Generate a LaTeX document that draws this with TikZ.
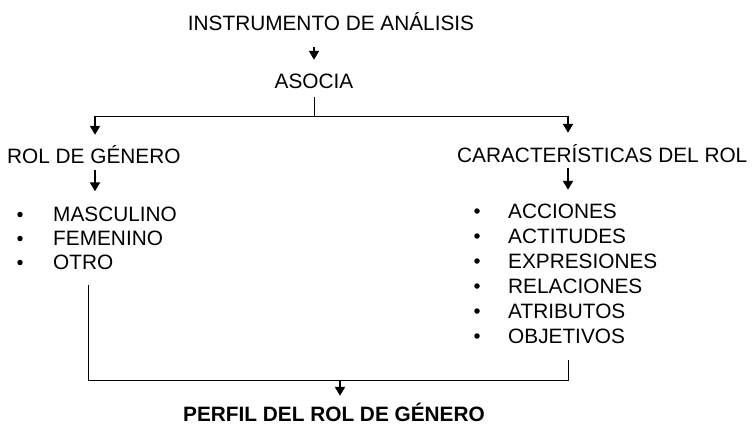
\documentclass[tikz,border=0pt]{standalone}
\usepackage{fontspec}
\setmainfont{Liberation Sans}
\usetikzlibrary{arrows.meta}
\begin{document}
\begin{tikzpicture}[x=1pt,y=-1pt,
  lbl/.style={inner sep=0pt,text height=15pt,text depth=0pt,font=\fontsize{20.8}{25}\selectfont},
  itm/.style={lbl,anchor=base west},
  ln/.style={line width=1pt},
  arr/.style={line width=2pt,-{Triangle[width=10pt,length=9pt]}},
  bul/.style={fill=black,circle,inner sep=0pt,minimum size=5.5pt}]
\useasboundingbox (0,0) rectangle (754,424);
% top
\node[lbl,anchor=base] (title) at (331,30) {INSTRUMENTO DE ANÁLISIS};
\node[lbl,anchor=base] (asocia) at (314,88) {ASOCIA};
\draw[arr,shorten <=17pt,shorten >=13pt] (title.south -| asocia.north) -- (asocia.north);
% branches
\node[lbl,anchor=base west] (rol) at (7,163) {ROL DE GÉNERO};
\node[lbl,anchor=base west] (car) at (457,162) {CARACTERÍSTICAS DEL ROL};
\coordinate (jt) at (asocia.south |- 0,116);
\coordinate (jl) at (95,116);
\coordinate (jr) at (568,116);
\draw[ln] ([yshift=-9pt]asocia.south) -- (jt);
\draw[ln] (jl) -- (jr);
\draw[arr,shorten >=13pt] (jl) -- (jl |- rol.north);
\draw[arr,shorten >=14pt] (jr) -- (jr |- car.north);
% left list
\node[itm] (masc) at (53,221.5) {MASCULINO};
\node[itm] (fem) at (53,245.5) {FEMENINO};
\node[itm] (otro) at (53,269.5) {OTRO};
\foreach \n in {masc,fem,otro} \node[bul] at ([yshift=7pt]\n.base west -| 20,0) {};
\draw[arr,shorten <=7pt,shorten >=15pt] (jl |- rol.south) -- (jl |- masc.north);
% right list
\node[itm] (acc) at (508,218) {ACCIONES};
\node[itm] (act) at (508,243) {ACTITUDES};
\node[itm] (exp) at (508,268) {EXPRESIONES};
\node[itm] (rel) at (508,293) {RELACIONES};
\node[itm] (atr) at (508,318) {ATRIBUTOS};
\node[itm] (obj) at (508,343) {OBJETIVOS};
\foreach \n in {acc,act,exp,rel,atr,obj} \node[bul] at ([yshift=7pt]\n.base west -| 477,0) {};
\draw[arr,shorten <=6pt,shorten >=13pt] (jr |- car.south) -- (jr |- acc.north);
% bottom
\node[lbl,anchor=base,font=\fontsize{20.8}{25}\selectfont\bfseries] (perfil) at (334,421) {PERFIL DEL ROL DE GÉNERO};
\coordinate (bl) at (88,380);
\coordinate (br) at (568,380);
\coordinate (bm) at (340,380);
\draw[ln] ([yshift=-15pt]otro.south -| bl) -- (bl) -- (br) -- ([yshift=-17pt]obj.south -| br);
\draw[arr,shorten >=10pt] (bm) -- (bm |- perfil.north);
\end{tikzpicture}
\end{document}
